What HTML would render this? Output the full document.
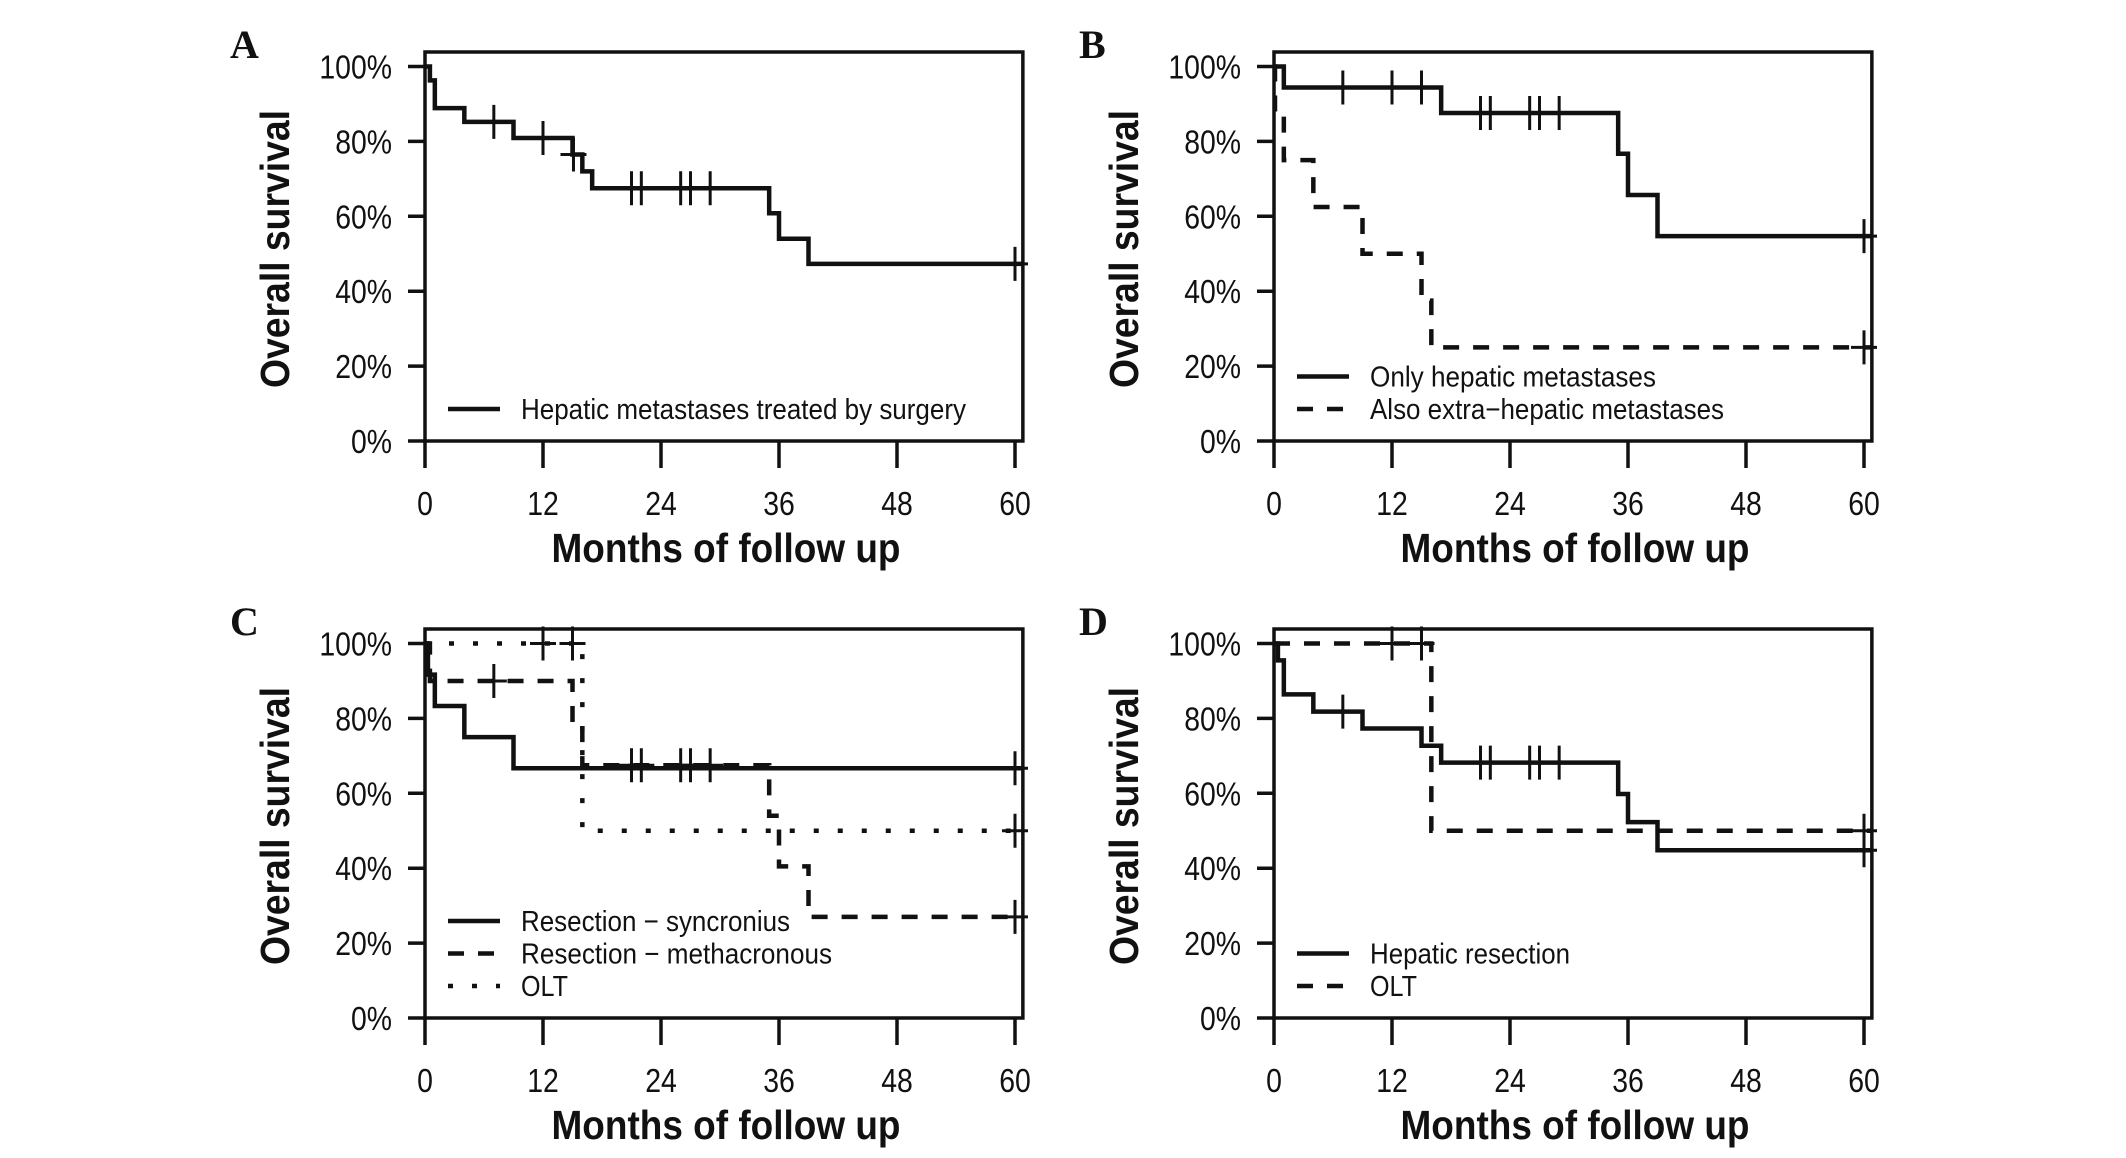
<!DOCTYPE html>
<html><head><meta charset="utf-8"><style>
html,body{margin:0;padding:0;background:#fff;}
svg{display:block;}
text{font-family:"Liberation Sans",Arial,sans-serif;fill:#111;}
</style></head><body>
<svg id="fig" xmlns="http://www.w3.org/2000/svg" width="2126" height="1158" viewBox="0 0 2126 1158"></svg>
<script>
// Panel A
const aEvents=[0.5,1,4,9,15,16,17,35,36,39];
const aSurv=[96.3,88.9,85.2,80.9,76.5,72.0,67.5,60.8,54.0,47.3];
const aCensor=[7,12,15.1,21,22,26,27,29,60];
// Panel B
const bOnlyEvents=[1,17,35,36,39];
const bOnlySurv=[94.4,87.6,76.7,65.7,54.7];
const bOnlyCensor=[7,12,15,21,22,26,27,29,60];
const bAlsoEvents=[0.1,1,4,9,15,16];
const bAlsoSurv=[87.5,75,62.5,50,37.5,25];
const bAlsoCensor=[60];
// Panel C
const cSyncEvents=[0.3,1,4,9];
const cSyncSurv=[91.7,83.3,75,66.7];
const cSyncCensor=[60];
const cMetaEvents=[0.5,15,16,35,36,39];
const cMetaSurv=[90,79,67.5,54,40.5,27];
const cMetaCensor=[7,21,22,26,27,29,60];
const cOltEvents=[16];
const cOltSurv=[50];
const cOltCensor=[12,15,60];
// Panel D
const dResEvents=[0.4,1,4,9,15,17,35,36,39];
const dResSurv=[95.5,86.4,81.8,77.3,72.7,68.2,59.8,52.3,44.8];
const dResCensor=[7,21,22,26,27,29,60];
const dOltEvents=[16];
const dOltSurv=[50];
const dOltCensor=[12,15,60];
const xTicks=[0,12,24,36,48,60];
const yTicks=[0,20,40,60,80,100];

const NS='http://www.w3.org/2000/svg';
const svg=document.getElementById('fig');
function mk(tag,attrs,parent){const e=document.createElementNS(NS,tag);for(const k in attrs)e.setAttribute(k,attrs[k]);(parent||svg).appendChild(e);return e;}
function squeeze(t,f){const L=t.getComputedTextLength();if(L>0){t.setAttribute('textLength',(L*f).toFixed(1));t.setAttribute('lengthAdjust','spacingAndGlyphs');}}
const DASH={solid:'',dashed:'16 14',dotted:'5 19'};

function panel(ox,oy,letter,series,legend,name){
  const X=m=>ox+425+m*590/60;
  const Y=s=>oy+441-s*3.745;
  const g=mk('g',{});
  
  
  const box=mk('rect',{x:X(0),y:oy+52,width:X(60.8)-X(0),height:Y(0)-oy-52,fill:'none',stroke:'#111','stroke-width':3.5},g);
  
  
  const lt=mk('text',{x:ox+230,y:oy+58,'font-size':40,'font-weight':'bold',style:'font-family:"Liberation Serif",serif'},g);
  lt.textContent=letter;
  
  
  yTicks.forEach(v=>{
    const t=mk('line',{x1:X(0)-17,x2:X(0),y1:Y(v),y2:Y(v),stroke:'#111','stroke-width':3.5},g);
    
    
    const l=mk('text',{x:X(0)-33,y:Y(v)+12,'font-size':33,'text-anchor':'end'},g);
    l.textContent=v+'%';
    
    
    squeeze(l,0.86);
  });
  xTicks.forEach(v=>{
    const t=mk('line',{x1:X(v),x2:X(v),y1:Y(0),y2:Y(0)+27,stroke:'#111','stroke-width':3.5},g);
    
    
    const l=mk('text',{x:X(v),y:oy+515,'font-size':33,'text-anchor':'middle'},g);
    l.textContent=v;
    
    
    squeeze(l,0.86);
  });
  const xt=mk('text',{x:ox+726,y:oy+562,'font-size':41,'font-weight':'bold','text-anchor':'middle',textLength:349,lengthAdjust:'spacingAndGlyphs'},g);
  xt.textContent='Months of follow up';
  
  
  const yt=mk('text',{x:0,y:0,'font-size':41,'font-weight':'bold','text-anchor':'middle',textLength:278,lengthAdjust:'spacingAndGlyphs',transform:`translate(${ox+289},${oy+249}) rotate(-90)`},g);
  yt.textContent='Overall survival';
  
  
  series.forEach(s=>{
    let d=`M${X(0)},${Y(100)}`;
    s.ev.forEach((t,i)=>{d+=` H${X(t)} V${Y(s.sv[i])}`;});
    d+=` H${X(60.8)}`;
    const p=mk('path',{d:d,fill:'none',stroke:'#111','stroke-width':4.5,'stroke-dasharray':DASH[s.style]},g);
    
    
    s.cen.forEach(c=>{
      let lv=100;s.ev.forEach((t,i)=>{if(t<=c)lv=s.sv[i];});
      const m=mk('path',{d:`M${X(c)},${Y(lv)-17} V${Y(lv)+17} M${X(c)-13},${Y(lv)} H${X(c)+13}`,stroke:'#111','stroke-width':3,fill:'none'},g);
      
      
    });
  });
  const rows=legend.length;
  legend.forEach((e,i)=>{
    const yy=oy+409-(rows-1-i)*32.5;
    const ln=mk('line',{x1:X(0)+23,x2:X(0)+75,y1:yy,y2:yy,stroke:'#111','stroke-width':4.5,'stroke-dasharray':DASH[e.style]},g);
    
    
    const tx=mk('text',{x:X(0)+96,y:yy+10,'font-size':29,textLength:e.w,lengthAdjust:'spacingAndGlyphs'},g);
    tx.textContent=e.label;
    
    
  });
}
panel(0,0,'A',[{name:'surgery',style:'solid',ev:aEvents,sv:aSurv,cen:aCensor}],
  [{label:'Hepatic metastases treated by surgery',style:'solid',w:445}],'panel-a');
panel(849,0,'B',[{name:'only-hepatic',style:'solid',ev:bOnlyEvents,sv:bOnlySurv,cen:bOnlyCensor},
  {name:'extra-hepatic',style:'dashed',ev:bAlsoEvents,sv:bAlsoSurv,cen:bAlsoCensor}],
  [{label:'Only hepatic metastases',style:'solid',w:286},{label:'Also extra\u2212hepatic metastases',style:'dashed',w:354}],'panel-b');
panel(0,577,'C',[{name:'syncronius',style:'solid',ev:cSyncEvents,sv:cSyncSurv,cen:cSyncCensor},
  {name:'methacronous',style:'dashed',ev:cMetaEvents,sv:cMetaSurv,cen:cMetaCensor},
  {name:'olt',style:'dotted',ev:cOltEvents,sv:cOltSurv,cen:cOltCensor}],
  [{label:'Resection \u2212 syncronius',style:'solid',w:269},{label:'Resection \u2212 methacronous',style:'dashed',w:311},{label:'OLT',style:'dotted',w:47}],'panel-c');
panel(849,577,'D',[{name:'resection',style:'solid',ev:dResEvents,sv:dResSurv,cen:dResCensor},
  {name:'olt',style:'dashed',ev:dOltEvents,sv:dOltSurv,cen:dOltCensor}],
  [{label:'Hepatic resection',style:'solid',w:200},{label:'OLT',style:'dashed',w:47}],'panel-d');
</script>
</body></html>
